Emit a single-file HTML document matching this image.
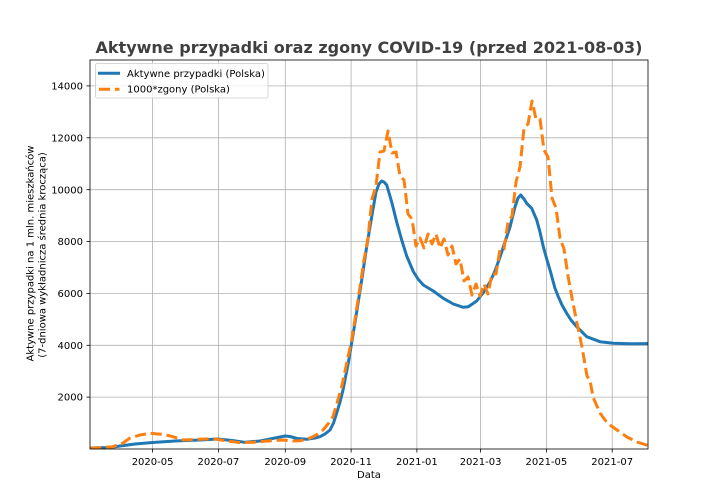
<!DOCTYPE html>
<html><head><meta charset="utf-8"><style>
html,body{margin:0;padding:0;background:#fff;}
svg{display:block;font-family:"DejaVu Sans","Liberation Sans",sans-serif;}
</style></head><body>
<svg width="720" height="504" viewBox="0 0 720 504" xmlns="http://www.w3.org/2000/svg">
<rect width="720" height="504" fill="#fff"/>
<defs><clipPath id="ax"><rect x="90" y="60" width="558" height="389"/></clipPath></defs>
<!-- grid -->
<g stroke="#b0b0b0" stroke-width="0.8">
<line x1="152.6" y1="60" x2="152.6" y2="449"/>
<line x1="218.4" y1="60" x2="218.4" y2="449"/>
<line x1="285.3" y1="60" x2="285.3" y2="449"/>
<line x1="351.1" y1="60" x2="351.1" y2="449"/>
<line x1="416.9" y1="60" x2="416.9" y2="449"/>
<line x1="480.6" y1="60" x2="480.6" y2="449"/>
<line x1="546.4" y1="60" x2="546.4" y2="449"/>
<line x1="612.2" y1="60" x2="612.2" y2="449"/>
<line x1="90" y1="397.1" x2="648" y2="397.1"/>
<line x1="90" y1="345.3" x2="648" y2="345.3"/>
<line x1="90" y1="293.4" x2="648" y2="293.4"/>
<line x1="90" y1="241.5" x2="648" y2="241.5"/>
<line x1="90" y1="189.7" x2="648" y2="189.7"/>
<line x1="90" y1="137.8" x2="648" y2="137.8"/>
<line x1="90" y1="85.9" x2="648" y2="85.9"/>
</g>
<g clip-path="url(#ax)" fill="none" stroke-linejoin="round">
<polyline stroke="#1f77b4" stroke-width="3" points="90,448 110,447.5 120,446 135,444 152.7,442.5 175,441 200,440 218,439 232,440.5 245,442.3 260,441 275,438 285,436 290,436.5 297,438.5 306.7,439.3 315,438 320,436.7 325,434 330,430 333.5,423 336.7,413 340,402 343,390 348.3,363 353.3,333 357,310 361.7,280 366.7,246.7 371.7,216.7 376,192 379,184 381.7,181 384,182 386.7,185 391.7,202 396.7,222 401.7,240 406.7,256 413.3,271.5 418,279 423.3,285 433.3,291 443.3,298.3 453.3,304 463.3,307.3 468.3,306.7 476.7,301 483,293 490,282 495,271 500,257 505,242 510,227 515,207 518,198 520.7,195 524,199 526.7,203.3 531.7,208.3 536.7,220 540,232 543.3,246.7 547,260 550,270 555,288.3 558.3,296.7 562,305 566.7,313.3 571,320 576.7,326.7 586.7,336.7 600,341.7 613.3,343.3 630,343.8 650,343.6"/>
<polyline stroke="#ff7f0e" stroke-width="3" stroke-dasharray="11.1,4.8" points="90,448.3 113,446.7 123,443 130,438 140,435 150,433.3 163,434.3 173,436.7 183,440 200,439.3 213,438.7 227,441 240,442.7 253,442.3 267,441 283,440 293,441 300,440.7 307,439.3 313,436.7 318,434 323,430 328,424 333,416.7 337,403 341.7,386.7 346.7,363 351.7,340 356,313 360,287 364,260 368,238 372,199 376,186 380,152 384,151 388,131 392,153 396,152 400,176 404,180 408,214 412,219 416,246 420,238 424,248 428,234 432,244 436,234 440,248 444,239 448,255 452,246 456,264 460,259 464,281 468,277 472,295 476,284 480,296 484,284 488,294 492,274 496,274 500,249 504,249 508,222 512,216 516,182 520,167 524,128 528,124 532,101 536,119 540,119 544,150 548,157 552,198 556,208 560,238 564,249 568,276 572,298 577,323 582,347 587,376 590,380 593,397 600,413 605,420 610,425 617,430 627,437 637,442 648,445.5"/>
</g>
<!-- spines -->
<rect x="90" y="60" width="558" height="389" fill="none" stroke="#000" stroke-width="0.8"/>
<!-- ticks -->
<g stroke="#000" stroke-width="0.8">
<line x1="152.6" y1="449" x2="152.6" y2="452.5"/>
<line x1="218.4" y1="449" x2="218.4" y2="452.5"/>
<line x1="285.3" y1="449" x2="285.3" y2="452.5"/>
<line x1="351.1" y1="449" x2="351.1" y2="452.5"/>
<line x1="416.9" y1="449" x2="416.9" y2="452.5"/>
<line x1="480.6" y1="449" x2="480.6" y2="452.5"/>
<line x1="546.4" y1="449" x2="546.4" y2="452.5"/>
<line x1="612.2" y1="449" x2="612.2" y2="452.5"/>
<line x1="86.5" y1="397.1" x2="90" y2="397.1"/>
<line x1="86.5" y1="345.3" x2="90" y2="345.3"/>
<line x1="86.5" y1="293.4" x2="90" y2="293.4"/>
<line x1="86.5" y1="241.5" x2="90" y2="241.5"/>
<line x1="86.5" y1="189.7" x2="90" y2="189.7"/>
<line x1="86.5" y1="137.8" x2="90" y2="137.8"/>
<line x1="86.5" y1="85.9" x2="90" y2="85.9"/>
</g>
<g font-size="10" fill="#000">
<g text-anchor="middle">
<text x="152.6" y="465">2020-05</text>
<text x="218.4" y="465">2020-07</text>
<text x="285.3" y="465">2020-09</text>
<text x="351.1" y="465">2020-11</text>
<text x="416.9" y="465">2021-01</text>
<text x="480.6" y="465">2021-03</text>
<text x="546.4" y="465">2021-05</text>
<text x="612.2" y="465">2021-07</text>
<text x="369" y="478">Data</text>
</g>
<g text-anchor="end">
<text x="83" y="400.7">2000</text>
<text x="83" y="348.9">4000</text>
<text x="83" y="297">6000</text>
<text x="83" y="245.1">8000</text>
<text x="83" y="193.3">10000</text>
<text x="83" y="141.4">12000</text>
<text x="83" y="89.5">14000</text>
</g>
<g text-anchor="middle">
<text transform="translate(33.5,253.5) rotate(-90)">Aktywne przypadki na 1 mln. mieszkańców</text>
<text transform="translate(45.5,255) rotate(-90)">(7-dniowa wykładnicza średnia krocząca)</text>
</g>
</g>
<!-- title -->
<text x="369" y="53" text-anchor="middle" font-size="16" font-weight="bold" fill="#404040" textLength="547" lengthAdjust="spacingAndGlyphs">Aktywne przypadki oraz zgony COVID-19 (przed 2021-08-03)</text>
<!-- legend -->
<rect x="95.5" y="63.5" width="172.5" height="34.5" rx="2" ry="2" fill="#fff" fill-opacity="0.8" stroke="#cccccc" stroke-width="0.8"/>
<line x1="99.5" y1="73.3" x2="118.5" y2="73.3" stroke="#1f77b4" stroke-width="3" stroke-linecap="square"/>
<line x1="99" y1="89.3" x2="119.5" y2="89.3" stroke="#ff7f0e" stroke-width="3" stroke-dasharray="11.1,4.8"/>
<g font-size="10" fill="#000">
<text x="127" y="77">Aktywne przypadki (Polska)</text>
<text x="127" y="92.6">1000*zgony (Polska)</text>
</g>
</svg>
</body></html>
